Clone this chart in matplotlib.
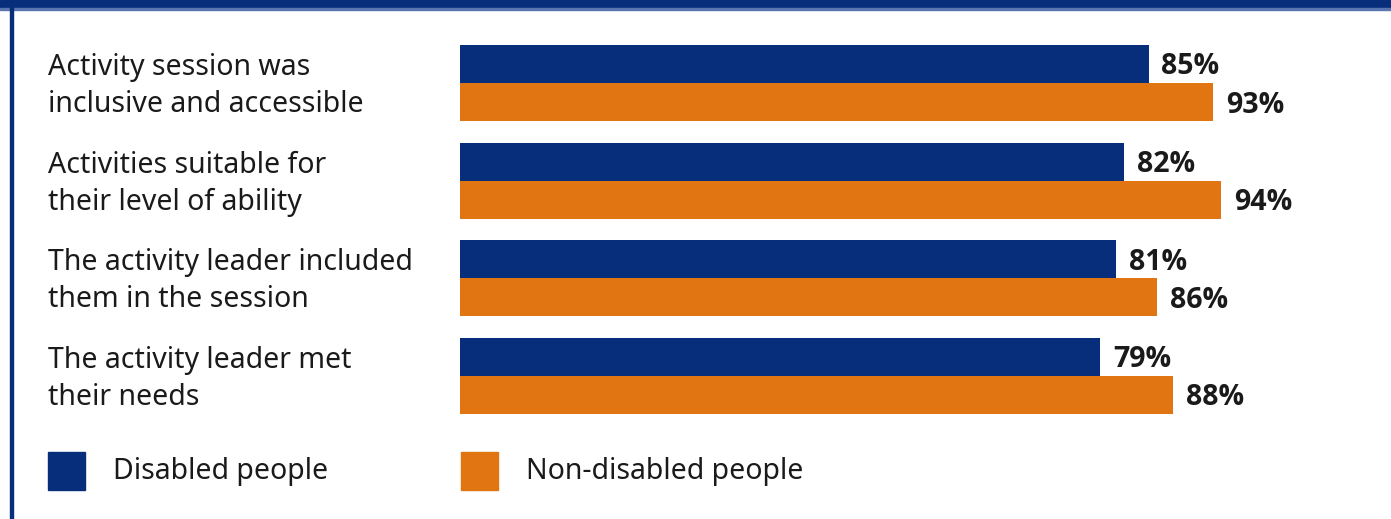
import matplotlib.pyplot as plt
import matplotlib.patches as mpatches
from matplotlib.transforms import blended_transform_factory
import numpy as np

plt.rcParams['font.family'] = ['Noto Sans', 'DejaVu Sans']

# data
categories = [
    'Activity session was\ninclusive and accessible',
    'Activities suitable for\ntheir level of ability',
    'The activity leader included\nthem in the session',
    'The activity leader met\ntheir needs',
]
disabled = [85, 82, 81, 79]
non_disabled = [93, 94, 86, 88]
series_names = ['Disabled people', 'Non-disabled people']

BLUE = '#062e7b'
ORANGE = '#e07511'
TEXT = '#1a1a1a'
FS = 20.5

W, H = 1391, 519
fig = plt.figure(figsize=(W / 100, H / 100), dpi=100)

# axes placed in pixel terms: x 460..1270 = 0..100 %, y 45..414
ax = fig.add_axes([460 / W, (H - 414) / H, 810 / W, 369 / H])
bar_h = 0.39
y = np.arange(len(categories))
ax.barh(y - bar_h / 2, disabled, height=bar_h, color=BLUE)
ax.barh(y + bar_h / 2, non_disabled, height=bar_h, color=ORANGE)
ax.set_xlim(0, 100)
ax.set_ylim(len(categories) - 1 + bar_h, -bar_h)
ax.axis('off')

dy = 0.03  # small nudge down so text sits like the original
val_font = dict(fontsize=FS, fontweight='bold', color=TEXT, family=['Open Sans', 'DejaVu Sans'])
for i in y:
    ax.text(disabled[i] + 1.6, i - bar_h / 2 + dy, f'{disabled[i]}%', va='center', ha='left',
            **val_font)
    ax.text(non_disabled[i] + 1.6, i + bar_h / 2 + dy, f'{non_disabled[i]}%', va='center',
            ha='left', **val_font)

# category labels at left
trans = blended_transform_factory(fig.transFigure, ax.transData)
for i, lab in enumerate(categories):
    ax.text(48 / W, i + dy, lab, transform=trans, ha='left', va='center', fontsize=FS,
            color=TEXT, linespacing=1.35)

# legend
for name, col, x0 in zip(series_names, [BLUE, ORANGE], [48, 461]):
    fig.patches.append(mpatches.Rectangle((x0 / W, (H - 490) / H), 37 / W, 38 / H,
                                          transform=fig.transFigure, color=col))
    fig.text((x0 + 65) / W, (H - 471) / H, name, ha='left', va='center', fontsize=FS, color=TEXT)

# frame: top band and left border
fig.patches.append(mpatches.Rectangle((0, (H - 8) / H), 1, 8 / H, transform=fig.transFigure,
                                      color=BLUE))
fig.patches.append(mpatches.Rectangle((0, (H - 10) / H), 1, 2 / H, transform=fig.transFigure,
                                      color='#5a76b0'))
fig.patches.append(mpatches.Rectangle((10 / W, 0), 3 / W, 1, transform=fig.transFigure,
                                      color=BLUE))

fig.savefig('out.png', dpi=100)
